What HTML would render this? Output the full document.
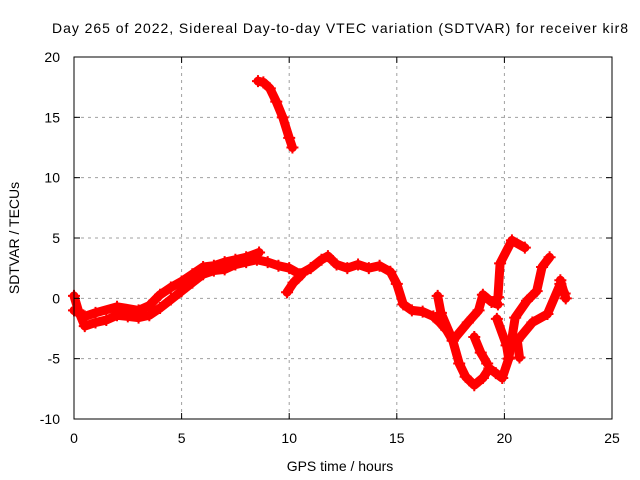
<!DOCTYPE html>
<html><head><meta charset="utf-8"><style>
body{margin:0;background:#fff}
svg{display:block;font-family:"Liberation Sans",sans-serif}
</style></head><body>
<svg id="chart" width="640" height="480">
<text x="340" y="33" text-anchor="middle" font-size="14" textLength="576">Day 265 of 2022, Sidereal Day-to-day VTEC variation (SDTVAR) for receiver kir8</text>
<text x="340" y="471" text-anchor="middle" font-size="14">GPS time / hours</text>
<text transform="translate(19,238) rotate(-90)" text-anchor="middle" font-size="14">SDTVAR / TECUs</text>
<g id="grid"></g><g id="series"></g><g id="axes"></g>
</svg>
<script>
const xTicks=[0,5,10,15,20,25];
const yTicks=[-10,-5,0,5,10,15,20];
const arcHigh=[[8.55,18.0],[8.8,17.9],[9.1,17.4],[9.4,16.3],[9.7,15.0],[10.0,13.3],[10.15,12.5]];
const bandLower=[[0,0.2],[0.2,-1],[0.5,-2.3],[1,-2],[1.5,-1.8],[2,-1.4],[2.5,-1.5],[3,-1.6],[3.5,-1.4],[4,-0.8],[4.5,-0.1],[5,0.6],[5.5,1.3],[6,2],[6.5,2.3],[7,2.4],[7.5,2.8],[8,3],[8.5,3.2],[9,3],[9.5,2.7],[10,2.5],[10.5,2],[11,2.5],[11.5,3.2],[11.8,3.5],[12.2,2.8],[12.7,2.5],[13.2,2.8],[13.7,2.5],[14.2,2.7],[14.7,2.2],[15,1.2],[15.3,-0.5],[15.7,-1],[16.2,-1.1],[16.7,-1.5],[17,-2],[17.3,-2.6],[17.6,-3.5],[17.9,-5.4],[18.2,-6.5],[18.6,-7.2],[19,-6.6],[19.3,-5.8],[19.6,-6.2],[19.9,-6.6],[20.2,-5],[20.1,-3.9],[19.65,-1.7]];
const bandUpper=[[0,-1],[0.5,-1.5],[1,-1.2],[2,-0.7],[3,-1],[3.5,-0.6],[4,0.3],[4.5,0.9],[5,1.4],[5.5,2],[6,2.6],[6.5,2.7],[7,3],[7.5,3.2],[8,3.4],[8.6,3.8]];
const arcShort=[[9.9,0.5],[10.2,1.3],[10.6,2]];
const arcMid=[[16.9,0.2],[17.05,-1.2],[17.6,-3.5],[18.3,-2],[18.8,-1],[19,0.3],[19.4,-0.3],[19.7,-0.5]];
const arcDip=[[18.6,-3.2],[18.9,-4.5],[19.2,-5.4]];
const arcRise=[[19.55,-0.3],[19.7,0.1],[19.8,2.9],[20.35,4.8],[20.95,4.2]];
const arcRightA=[[20.2,-5],[20.5,-1.6],[21.05,-0.2],[21.5,0.6],[21.75,2.6],[22.1,3.4]];
const arcRightB=[[20.7,-4.9],[20.6,-3.5],[21.3,-2],[22,-1.3],[22.6,1.2],[22.8,0.4],[22.85,0],[22.6,1.5]];
const allSeries=[arcHigh,bandLower,bandUpper,arcShort,arcMid,arcDip,arcRise,arcRightA,arcRightB];
const seriesNames=['arc-high','band-lower','band-upper','arc-short','arc-mid','arc-dip','arc-rise','arc-right-a','arc-right-b'];

const X0=74,X1=612,Y0=419,Y1=57;
const xs=t=>X0+(t-0)/(25-0)*(X1-X0);
const ys=v=>Y0-(v+10)/30*(Y0-Y1);
const NS='http://www.w3.org/2000/svg';
function mk(tag,attrs,parent){const e=document.createElementNS(NS,tag);for(const k in attrs)e.setAttribute(k,attrs[k]);parent.appendChild(e);return e;}
const grid=document.getElementById('grid'),axes=document.getElementById('axes'),ser=document.getElementById('series');
xTicks.forEach(t=>{
  const x=xs(t);
  if(t>0&&t<25){const g=mk('line',{x1:x,x2:x,y1:Y0,y2:Y1,stroke:'#a0a0a0','stroke-dasharray':'3,4'},grid);
  
  }
  const l=mk('text',{x:x,y:443,'text-anchor':'middle','font-size':14},axes);l.textContent=t;
  
  
  mk('line',{x1:x,x2:x,y1:Y0,y2:Y0-6,stroke:'#000'},axes);
  mk('line',{x1:x,x2:x,y1:Y1,y2:Y1+6,stroke:'#000'},axes);
});
yTicks.forEach(v=>{
  const y=ys(v);
  if(v>-10&&v<20){const g=mk('line',{x1:X0,x2:X1,y1:y,y2:y,stroke:'#a0a0a0','stroke-dasharray':'3,4'},grid);
  
  }
  const l=mk('text',{x:60,y:y+5,'text-anchor':'end','font-size':14},axes);l.textContent=v;
  
  
  mk('line',{x1:X0,x2:X0+6,y1:y,y2:y,stroke:'#000'},axes);
  mk('line',{x1:X1,x2:X1-6,y1:y,y2:y,stroke:'#000'},axes);
});
const fr=mk('rect',{x:X0,y:Y1,width:X1-X0,height:Y0-Y1,fill:'none',stroke:'#000'},axes);


allSeries.forEach((s,i)=>{
  const p=mk('polyline',{points:s.map(d=>xs(d[0])+','+ys(d[1])).join(' '),fill:'none',stroke:'#ff0000','stroke-width':9,'stroke-linejoin':'round','stroke-linecap':'round'},ser);
  
  
  s.forEach(d=>{
    const x=xs(d[0]),y=ys(d[1]);
    const m=mk('path',{d:`M${x-6},${y}H${x+6}M${x},${y-6}V${y+6}`,stroke:'#ff0000','stroke-width':2},ser);
    
    
  });
});
</script>
</body></html>
